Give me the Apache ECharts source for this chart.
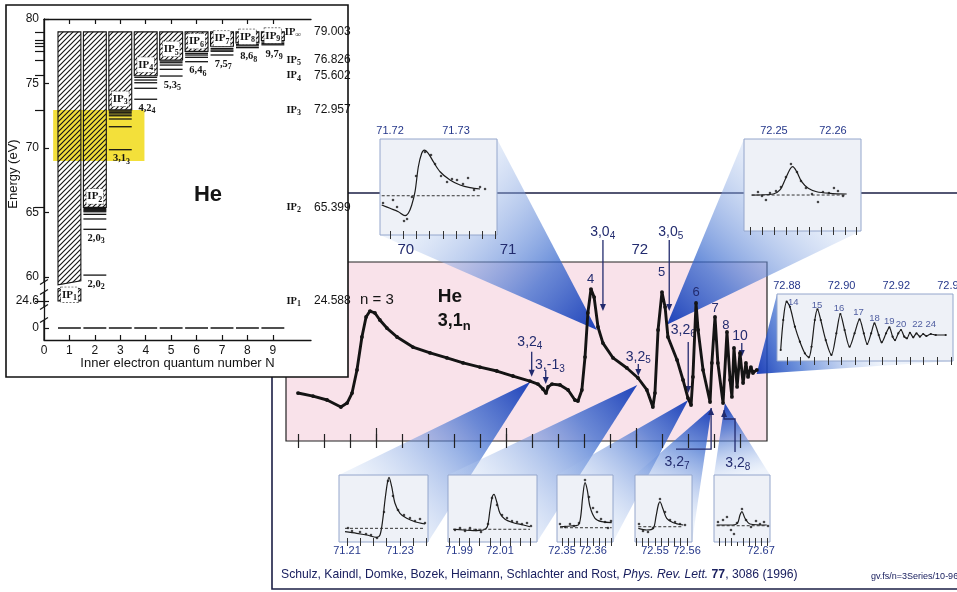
<!DOCTYPE html>
<html>
<head>
<meta charset="utf-8">
<title>He 3,1n resonances</title>
<script src="https://cdn.jsdelivr.net/npm/echarts@6.0.0/dist/echarts.min.js"></script>
<style>
  html, body { margin: 0; padding: 0; background: #ffffff; }
  #chart { width: 957px; height: 592px; }
</style>
</head>
<body>
<div id="chart"></div>
<script>
// ===================== He level diagram (left panel) =====================
const quantumN = [1, 2, 3, 4, 5, 6, 7, 8, 9];
const ionThresholds = [24.588, 65.399, 72.957, 75.602, 76.826, 77.49, 77.89, 78.15, 78.33];
const doubleIonLimit = 79.003;
const levelsN2 = [65.3, 65.22, 65.14, 65.06, 64.86, 64.5, 63.7, 60.15];
const levelsN3 = [72.87, 72.77, 72.64, 72.5, 72.25, 71.65, 69.87];
const levelsN4 = [75.48, 75.27, 75.06, 74.63, 73.78];
const levelsN5 = [76.74, 76.61, 76.43, 76.1, 75.58];
const levelsN6 = [77.34, 77.21, 77.03, 76.69];
const levelsN7 = [77.72, 77.6, 77.5, 77.21];
const levelsN8 = [78.02, 77.92, 77.78];
const levelsN9 = [78.22, 78.1, 78.0];
// state label: column, level it sits under, label, subscript
const stateNames = [
  [2, 60.15, '2,0', '2'], [2, 63.7, '2,0', '3'], [3, 69.87, '3,1', '3'], [4, 73.78, '4,2', '4'],
  [5, 75.58, '5,3', '5'], [6, 76.69, '6,4', '6'], [7, 77.21, '7,5', '7'], [8, 77.78, '8,6', '8'], [9, 78.0, '9,7', '9']
];
const energyTickValues = [0, 24.6, 60, 65, 70, 75, 80];
const energyTickLabels = ['0', '24.6', '60', '65', '70', '75', '80'];
const nTickValues = [0, 1, 2, 3, 4, 5, 6, 7, 8, 9];
const ipAxisValues = [79.003, 76.826, 75.602, 72.957, 65.399, 24.588];
const ipAxisNames = ['\u221e', '5', '4', '3', '2', '1'];
const ipExtraLevels = [78.33, 78.15, 77.89, 77.49];
const highlightBand = [0.36, 69.0, 3.95, 72.95];   // N from, E from, N to, E to

// ===================== photo-ion yield scan (right panel) =====================
const scanStep = [-0.02, 0.56, 1.10, 1.63, 1.87, 2.06, 2.25, 2.44, 2.60, 2.75, 2.94, 3.13, 3.40, 3.79, 4.40, 5.06, 5.71, 6.33, 6.98, 7.63,
  8.25, 8.90, 9.21, 9.40, 9.52, 9.60, 9.75, 10.06, 10.37, 10.63, 10.75, 10.90, 11.02, 11.13, 11.25, 11.37, 11.52, 11.71, 12.10, 12.63,
  13.06, 13.40, 13.63, 13.71, 13.83, 13.98, 14.10, 14.21, 14.56, 14.79, 14.98, 15.10, 15.17, 15.29, 15.37, 15.56, 15.83, 15.90, 16.02, 16.13,
  16.33, 16.48, 16.60, 16.67, 16.75, 16.87, 16.98, 17.10, 17.21, 17.29, 17.40, 17.48, 17.63];
const ionYield = [26.8, 25.1, 22.9, 19.0, 21.2, 26.8, 39.7, 58.1, 69.3, 72.6, 71.5, 67.6, 63.1, 58.1, 52.5, 49.2, 46.4, 43.6, 41.3, 39.1,
  36.3, 33.5, 31.8, 29.1, 26.8, 30.2, 31.8, 31.3, 28.5, 22.9, 22.3, 28.5, 46.9, 71.5, 84.9, 80.4, 63.7, 54.7, 46.4, 40.8,
  35.2, 28.5, 19.0, 26.8, 62.0, 83.2, 74.9, 58.1, 45.3, 34.1, 24.0, 20.1, 35.8, 77.1, 62.0, 39.7, 21.8, 43.6, 69.3, 43.6,
  21.2, 60.9, 34.1, 24.6, 52.0, 30.2, 49.2, 32.4, 43.6, 35.8, 41.3, 38.0, 39.7];
const scanTicks = [0, 1, 2, 3, 4, 5, 6, 7, 8, 9, 10, 11, 12, 13, 14, 15, 16, 17];
const scanMajorTicks = [3, 8, 13];
const energyLabelSteps = [4.13, 8.06, 13.13];
const energyLabels = ['70', '71', '72'];
const peakNumbers = ['4', '5', '6', '7', '8'];
const peakNumberAt = [[11.24, 90.3], [13.97, 93.9], [15.29, 83.2], [16.02, 74.3], [16.44, 64.8]];
// arrow notes: label, subscript, label x, label y, arrow x, arrow from, arrow to
const arrowNotes = [
  ['3,0', '4', 11.70, 116.8, 11.71, 112.3, 72.6],
  ['3,0', '5', 14.32, 116.8, 14.26, 112.3, 72.6],
  ['3,2', '4', 8.90, 55.3, 8.97, 49.9, 35.9],
  ['3,-1', '3', 9.67, 42.5, 9.51, 39.7, 31.8],
  ['3,2', '5', 13.07, 47.1, 13.07, 43.0, 36.3],
  ['3,2', '6', 14.80, 62.0, 14.99, 55.3, 26.8],
  ['10', '', 16.98, 58.7, 17.05, 54.7, 46.9]
];
const bracketNotes = [
  { path: [[15.87, 18.4], [15.87, -4.5], [14.52, -4.5]], text: ['3,2', '7'], at: [14.56, -11.7] },
  { path: [[16.37, 17.3], [16.37, 12.3], [16.79, 12.3], [16.79, -6.1]], text: ['3,2', '8'], at: [16.90, -12.3] }
];

// ----- zoomed resonances -----
const insetA_fitE = [71.71874, 71.72, 71.72126, 71.72227, 71.72277, 71.72329, 71.72379, 71.72429, 71.7248, 71.7252, 71.7258, 71.72656, 71.72758, 71.72909, 71.73061, 71.73212, 71.73364];
const insetA_fitY = [31.3, 27.8, 24.3, 20.1, 22.6, 31.3, 45.1, 71.1, 85.1, 88.5, 85.1, 76.4, 65.9, 57.3, 52.1, 49.3, 47.9];
const insetA_dotE = [71.71894, 71.72045, 71.72106, 71.72212, 71.72258, 71.72333, 71.72394, 71.7253, 71.72621, 71.72682, 71.72773, 71.72864, 71.72939, 71.73015, 71.73106, 71.73182, 71.73273, 71.73364, 71.7344];
const insetA_dotY = [33.3, 36.5, 29.2, 14.6, 16.7, 39.6, 61.5, 86.5, 83.3, 74.0, 61.5, 55.2, 58.3, 57.3, 53.1, 59.4, 46.9, 50.0, 47.9];
const insetA_base = 40.9;
const insetA_labels = [71.72, 71.73];

const insetB_fitE = [72.24622, 72.24988, 72.25102, 72.25186, 72.25271, 72.25317, 72.25385, 72.25469, 72.25581, 72.25724, 72.25949, 72.26232];
const insetB_fitY = [39.1, 40.2, 44.6, 55.4, 67.1, 69.9, 64.5, 53.6, 46.4, 42.7, 41.0, 40.2];
const insetB_dotE = [72.24729, 72.24797, 72.24864, 72.24932, 72.25034, 72.25119, 72.25203, 72.25288, 72.2539, 72.25458, 72.25542, 72.25644, 72.25746, 72.2583, 72.25932, 72.26017, 72.26085, 72.2617];
const insetB_dotY = [42.4, 38.0, 33.7, 41.3, 43.5, 47.8, 58.7, 72.8, 64.1, 54.3, 46.7, 40.2, 31.5, 42.4, 41.3, 46.7, 43.5, 38.0];
const insetB_base = 39.1;
const insetB_labels = [72.25, 72.26];

const insetC_fitE = [72.87771, 72.87865, 72.87989, 72.88109, 72.88291, 72.88473, 72.88655, 72.888, 72.88898, 72.89018, 72.89116, 72.89236, 72.89418, 72.89625, 72.89807,
  72.89953, 72.90109, 72.90291, 72.90473, 72.90655, 72.90811, 72.90935, 72.9108, 72.912, 72.91356, 72.91465, 72.91625, 72.91745, 72.91865, 72.91953,
  72.92073, 72.92171, 72.92291, 72.92389, 72.92498, 72.92618, 72.92738, 72.92862, 72.92982, 72.93102, 72.93262, 72.93444, 72.93807];
const insetC_fitY = [16.4, 61.2, 88.5, 81.0, 51.2, 28.8, 11.5, 5.5, 21.3, 61.2, 77.2, 61.2, 31.3, 9.0, 41.3,
  70.1, 46.3, 21.3, 41.3, 62.2, 41.3, 25.4, 41.3, 56.3, 38.8, 27.9, 41.3, 50.3, 36.3, 31.3,
  41.3, 46.3, 36.3, 33.9, 42.2, 35.4, 41.3, 36.3, 40.3, 37.3, 40.3, 38.8, 38.8];
const insetC_peakNames = ['14', '15', '16', '17', '18', '19', '20', '22', '24'];
const insetC_peakE = [72.88229, 72.89102, 72.89902, 72.90618, 72.912, 72.91745, 72.92171, 72.92775, 72.93262];
const insetC_peakY = [86.9, 83.6, 78.6, 72.1, 63.7, 58.7, 55.2, 55.2, 55.2];
const insetC_labels = [72.88, 72.90, 72.92, 72.94];

const insetD1_fitE = [71.20925, 71.21366, 71.21743, 71.22121, 71.22245, 71.22347, 71.22434, 71.22521, 71.22585, 71.22687, 71.22811, 71.23, 71.23253, 71.23566, 71.23943];
const insetD1_fitY = [15.4, 13.0, 10.4, 7.0, 10.4, 32.8, 62.7, 87.6, 96.6, 82.5, 57.8, 42.8, 35.4, 30.3, 26.9];
const insetD1_dotE = [71.21038, 71.21189, 71.21491, 71.21717, 71.21906, 71.22132, 71.22396, 71.22547, 71.22736, 71.22925, 71.23151, 71.23377, 71.23566, 71.23755, 71.23943];
const insetD1_dotY = [20.9, 16.4, 14.9, 11.9, 10.4, 6.0, 44.8, 91.0, 68.7, 47.8, 40.3, 35.8, 31.3, 34.3, 28.4];
const insetD1_base = 20.4;
const insetD1_labels = [71.21, 71.23];

const insetD2_fitE = [71.98722, 71.9921, 71.99698, 72.00185, 72.0038, 72.00512, 72.00624, 72.00707, 72.00839, 72.01, 72.01244, 72.01649, 72.02137, 72.02463];
const insetD2_fitY = [19.0, 17.9, 16.9, 17.9, 22.8, 47.8, 67.6, 71.2, 60.1, 42.8, 33.9, 28.8, 25.4, 22.8];
const insetD2_dotE = [71.98805, 71.99049, 71.99293, 71.99537, 71.99829, 72.00073, 72.00415, 72.0061, 72.00854, 72.01098, 72.01341, 72.01585, 72.01829, 72.02073, 72.02317, 72.02512];
const insetD2_dotY = [17.9, 20.9, 16.4, 20.9, 17.9, 14.9, 26.9, 65.7, 55.2, 40.3, 35.8, 31.3, 29.9, 26.9, 28.4, 23.9];
const insetD2_base = 19.0;
const insetD2_labels = [71.99, 72.01];

const insetD3_fitE = [72.34935, 72.35258, 72.35526, 72.35603, 72.35668, 72.35742, 72.35816, 72.35903, 72.36065, 72.36281, 72.36603];
const insetD3_fitY = [22.8, 23.9, 25.4, 37.8, 67.6, 88.5, 77.6, 52.7, 35.4, 30.3, 28.8];
const insetD3_dotE = [72.34935, 72.35097, 72.35258, 72.35387, 72.35548, 72.35742, 72.35871, 72.36, 72.36129, 72.36258, 72.36387, 72.36484, 72.36581];
const insetD3_dotY = [26.9, 22.4, 26.9, 23.9, 28.4, 92.5, 67.2, 50.7, 44.8, 34.3, 29.9, 20.9, 31.3];
const insetD3_base = 21.3;
const insetD3_labels = [72.35, 72.36];

const insetD4_fitE = [72.54478, 72.54741, 72.54947, 72.55031, 72.55103, 72.55156, 72.55241, 72.55366, 72.55572, 72.55884];
const insetD4_fitY = [20.4, 17.9, 20.4, 37.8, 55.2, 60.1, 50.3, 35.4, 28.8, 25.4];
const insetD4_dotE = [72.545, 72.54625, 72.54781, 72.54938, 72.55156, 72.55313, 72.55469, 72.55625, 72.55781, 72.55938];
const insetD4_dotY = [26.9, 16.4, 14.9, 20.9, 64.2, 44.8, 32.8, 29.9, 26.9, 25.4];
const insetD4_base = 22.8;
const insetD4_labels = [72.55, 72.56];

const insetD5_fitE = [72.65154, 72.65708, 72.66013, 72.66125, 72.66208, 72.66333, 72.66542, 72.67238];
const insetD5_fitY = [25.4, 25.4, 27.9, 40.3, 45.2, 35.4, 26.9, 25.4];
const insetD5_dotE = [72.65208, 72.65417, 72.65583, 72.6575, 72.65875, 72.66, 72.66208, 72.66375, 72.66583, 72.66792, 72.66958, 72.67125, 72.67292];
const insetD5_dotY = [29.9, 32.8, 37.3, 17.9, 11.9, 28.4, 49.3, 32.8, 22.4, 31.3, 26.9, 29.9, 23.9];
const insetD5_base = 24.3;
const insetD5_labels = [72.66, 72.67];

// ===================== styling helpers =====================
const SANS = '"Liberation Sans", Arial, Helvetica, sans-serif';
const SERIF = '"Liberation Serif", "DejaVu Serif", serif';
const NAVY = '#222b6e';
const INSET_NAVY = '#25378a';
const INK = '#141414';

function richPair(size, color, family, weight) {
  return {
    m: { fontSize: size, fontFamily: family, fontWeight: weight, fill: color, color: color },
    s: { fontSize: Math.round(size * 0.72), fontFamily: family, fontWeight: weight, fill: color, color: color,
         padding: [Math.round(size * 0.6), 0, 0, 0] }
  };
}
const subText = (main, sub) => sub ? '{m|' + main + '}{s|' + sub + '}' : '{m|' + main + '}';

// energy axis with two breaks: 0 and 24.6 eV sit in compressed segments below 60 eV
function dispE(e) {
  if (e >= 59) return e;
  if (e >= 20) return 58.14 + (e - 24.588) * 0.2;
  return 56.05 + e * 0.2;
}
const energyAxisMin = 55.12;
const column1Cut = 59.55;      // hatched N=1 continuum is cut at the axis break
const ip1BoxTop = 29.4;        // top of the N=1 continuum piece shown below the break
const leftAxisPieces = [[80, 59.61], [58.84, 57.67], [56.67, 55.12]];

const hatchTile = (function () {
  const s = 5, c = document.createElement('canvas');
  c.width = s; c.height = s;
  const g = c.getContext('2d');
  g.strokeStyle = '#151515'; g.lineWidth = 1.15;
  g.beginPath();
  g.moveTo(0, s); g.lineTo(s, 0);
  g.moveTo(-1, 1); g.lineTo(1, -1);
  g.moveTo(s - 1, s + 1); g.lineTo(s + 1, s - 1);
  g.stroke();
  return c;
})();
const hatchFill = { image: hatchTile, repeat: 'repeat' };

const levelList = [];
[[2, levelsN2], [3, levelsN3], [4, levelsN4], [5, levelsN5], [6, levelsN6], [7, levelsN7], [8, levelsN8], [9, levelsN9]]
  .forEach(([n, arr]) => arr.forEach(e => levelList.push([n, e])));

// ===================== left panel renderers =====================
function renderColumn(params, api) {
  const n = api.value(0), ip = api.value(1);
  const xl = api.coord([n - 0.45, 60])[0], xr = api.coord([n + 0.45, 60])[0];
  const yTop = api.coord([0, doubleIonLimit])[1];
  const kids = [];
  let labelY;
  if (n === 1) {
    const yCut = api.coord([0, column1Cut])[1];
    kids.push({ type: 'polygon', shape: { points: [[xl, yTop], [xr, yTop], [xr, yCut - 2], [xl, yCut + 2]] },
      style: { fill: hatchFill, stroke: INK, lineWidth: 1.1 } });
    const yb = api.coord([0, dispE(ip)])[1], yt = api.coord([0, dispE(ip1BoxTop)])[1];
    kids.push({ type: 'rect', shape: { x: xl, y: yt, width: xr - xl, height: yb - yt }, style: { fill: hatchFill } });
    kids.push({ type: 'polyline', shape: { points: [[xl, yt], [xl, yb], [xr, yb], [xr, yt]] }, style: { stroke: INK, lineWidth: 1.1, fill: null } });
    kids.push({ type: 'line', shape: { x1: xl, y1: yt, x2: xr, y2: yt }, style: { stroke: INK, lineWidth: 1, lineDash: [2, 2] } });
    labelY = (yt + yb) / 2;
  } else {
    const yb = api.coord([0, ip])[1];
    kids.push({ type: 'rect', shape: { x: xl, y: yTop, width: xr - xl, height: yb - yTop },
      style: { fill: hatchFill, stroke: INK, lineWidth: 1.1 } });
    labelY = yb - Math.min(11, (yb - yTop) / 2 + 0.5);
  }
  kids.push({ type: 'text', x: (xl + xr) / 2, y: labelY, z2: 5,
    style: { text: subText('IP', String(n)), rich: richPair(11, INK, SERIF, 'bold'), align: 'center', verticalAlign: 'middle',
      backgroundColor: '#ffffff', padding: [0, 1, 0, 1], borderColor: '#333', borderWidth: 0.6, borderDash: [2, 1.5] } });
  return { type: 'group', children: kids };
}
function renderLevel(params, api) {
  const n = api.value(0), e = api.value(1);
  const a = api.coord([n - 0.45, e]), b = api.coord([n + 0.45, e]);
  return { type: 'line', shape: { x1: a[0], y1: a[1], x2: b[0], y2: b[1] }, style: { stroke: INK, lineWidth: 1.3 } };
}
function renderGround(params, api) {
  const n = api.value(0);
  const a = api.coord([n - 0.45, dispE(0)]), b = api.coord([n + 0.45, dispE(0)]);
  return { type: 'line', shape: { x1: a[0], y1: a[1], x2: b[0], y2: b[1] }, style: { stroke: INK, lineWidth: 1.5 } };
}
function renderStateName(params, api) {
  const s = stateNames[api.value(0)];
  const p = api.coord([s[0] + 0.05, s[1]]);
  return { type: 'text', x: p[0], y: p[1] + 9,
    style: { text: subText(s[2], s[3]), rich: richPair(10.5, INK, SERIF, 'bold'), align: 'center', verticalAlign: 'middle' } };
}
function renderIpName(params, api) {
  const i = api.value(0);
  const p = api.coord([10.5, dispE(ipAxisValues[i])]);
  return { type: 'text', x: p[0] - 10, y: p[1],
    style: { text: subText('IP', ipAxisNames[i]), rich: richPair(10.5, INK, SERIF, 'bold'), align: 'right', verticalAlign: 'middle' } };
}
function renderHighlight(params, api) {
  const a = api.coord([highlightBand[0], highlightBand[3]]), b = api.coord([highlightBand[2], highlightBand[1]]);
  return { type: 'rect', shape: { x: a[0], y: a[1], width: b[0] - a[0], height: b[1] - a[1] },
    style: { fill: '#f3e03a' } };
}
function renderLeftAxis(params, api) {
  const kids = [];
  leftAxisPieces.forEach(([hi, lo], k) => {
    const a = api.coord([0, hi]), b = api.coord([0, lo]);
    kids.push({ type: 'line', shape: { x1: a[0], y1: a[1], x2: b[0], y2: b[1] }, style: { stroke: INK, lineWidth: 1.3 } });
    if (k > 0) kids.push({ type: 'line', shape: { x1: a[0] - 4, y1: a[1] + 2.5, x2: a[0] + 4, y2: a[1] - 2.5 }, style: { stroke: INK, lineWidth: 1.2 } });
    if (k < leftAxisPieces.length - 1) kids.push({ type: 'line', shape: { x1: b[0] - 4, y1: b[1] + 2.5, x2: b[0] + 4, y2: b[1] - 2.5 }, style: { stroke: INK, lineWidth: 1.2 } });
  });
  return { type: 'group', children: kids };
}

// ===================== right panel renderers =====================
function renderArrowNote(params, api) {
  const a = arrowNotes[api.value(0)];
  const p0 = api.coord([a[4], a[5]]), p1 = api.coord([a[4], a[6]]), lp = api.coord([a[2], a[3]]);
  return { type: 'group', children: [
    { type: 'line', shape: { x1: p0[0], y1: p0[1], x2: p1[0], y2: p1[1] - 5 }, style: { stroke: NAVY, lineWidth: 1.3 } },
    { type: 'polygon', shape: { points: [[p1[0] - 3, p1[1] - 7], [p1[0] + 3, p1[1] - 7], [p1[0], p1[1]]] }, style: { fill: NAVY } },
    { type: 'text', x: lp[0], y: lp[1], style: { text: subText(a[0], a[1]), rich: richPair(14, NAVY, SANS, 'normal'), align: 'center', verticalAlign: 'middle' } }
  ] };
}
function renderBracket(params, api) {
  const b = bracketNotes[api.value(0)];
  const pts = b.path.map(p => api.coord(p));
  const tip = pts[0];
  const lp = api.coord(b.at);
  return { type: 'group', children: [
    { type: 'polyline', shape: { points: pts }, style: { stroke: NAVY, lineWidth: 1.3, fill: null } },
    { type: 'polygon', shape: { points: [[tip[0] - 3, tip[1] + 7], [tip[0] + 3, tip[1] + 7], [tip[0], tip[1]]] }, style: { fill: NAVY } },
    { type: 'text', x: lp[0], y: lp[1], style: { text: subText(b.text[0], b.text[1]), rich: richPair(14, NAVY, SANS, 'normal'), align: 'center', verticalAlign: 'middle' } }
  ] };
}
function renderPeakNumber(params, api) {
  const i = api.value(0);
  const p = api.coord(peakNumberAt[i]);
  return { type: 'text', x: p[0], y: p[1], style: { text: peakNumbers[i], fill: NAVY, fontSize: 13, fontFamily: SANS, align: 'center', verticalAlign: 'middle' } };
}
function renderScanTitle(params, api) {
  const p1 = api.coord([3.02, 78.8]), p2 = api.coord([5.36, 80.6]), p3 = api.coord([5.36, 67.0]);
  return { type: 'group', children: [
    { type: 'text', x: p1[0], y: p1[1], style: { text: 'n = 3', fill: INK, fontSize: 15, fontFamily: SANS, align: 'center', verticalAlign: 'middle' } },
    { type: 'text', x: p2[0], y: p2[1], style: { text: 'He', fill: INK, fontSize: 19, fontWeight: 'bold', fontFamily: SANS, align: 'left', verticalAlign: 'middle' } },
    { type: 'text', x: p3[0], y: p3[1], style: { text: subText('3,1', 'n'), rich: richPair(18, INK, SANS, 'bold'), align: 'left', verticalAlign: 'middle' } }
  ] };
}

// ===================== insets =====================
function ticksBetween(lo, hi, step) {
  const out = [];
  for (let k = Math.ceil(lo / step - 1e-9); k * step <= hi + 1e-9; k++) out.push(+(k * step).toFixed(6));
  return out;
}
const zip = (xs, ys) => xs.map((x, i) => [x, ys[i]]);

const insetDefs = [
  { box: [380, 139, 117, 96], range: [71.71848, 71.73621], step: 0.002, labels: insetA_labels, labelSide: 'top',
    fit: zip(insetA_fitE, insetA_fitY), dots: zip(insetA_dotE, insetA_dotY), base: insetA_base, apex: [11.48, 62.0], rays: ['bl', 'tr'] },
  { box: [744, 139, 117, 92], range: [72.24492, 72.26475], step: 0.002, labels: insetB_labels, labelSide: 'top',
    fit: zip(insetB_fitE, insetB_fitY), dots: zip(insetB_dotE, insetB_dotY), base: insetB_base, apex: [14.17, 65.0], rays: ['tl', 'br'] },
  { box: [777, 294, 176, 67], range: [72.87636, 72.94073], step: 0.005, labels: insetC_labels, labelSide: 'top',
    fit: zip(insetC_fitE, insetC_fitY), dots: null, base: null, apex: [17.62, 37.4], rays: ['tl', 'br'] },
  { box: [339, 475, 89, 67], range: [71.20698, 71.24057], step: 0.005, labels: insetD1_labels, labelSide: 'bottom',
    fit: zip(insetD1_fitE, insetD1_fitY), dots: zip(insetD1_dotE, insetD1_dotY), base: insetD1_base, apex: [8.92, 33.1], rays: ['tl', 'br'] },
  { box: [448, 475, 89, 67], range: [71.98463, 72.02805], step: 0.005, labels: insetD2_labels, labelSide: 'bottom',
    fit: zip(insetD2_fitE, insetD2_fitY), dots: zip(insetD2_dotE, insetD2_dotY), base: insetD2_base, apex: [13.03, 31.3], rays: ['tl', 'br'] },
  { box: [557, 475, 56, 67], range: [72.34839, 72.36645], step: 0.002, labels: insetD3_labels, labelSide: 'bottom',
    fit: zip(insetD3_fitE, insetD3_fitY), dots: zip(insetD3_dotE, insetD3_dotY), base: insetD3_base, apex: [14.99, 22.9], rays: ['tl', 'br'] },
  { box: [635, 475, 57, 67], range: [72.54375, 72.56156], step: 0.002, labels: insetD4_labels, labelSide: 'bottom',
    fit: zip(insetD4_fitE, insetD4_fitY), dots: zip(insetD4_dotE, insetD4_dotY), base: insetD4_base, apex: [15.89, 18.3], rays: ['tl', 'br'] },
  { box: [714, 475, 56, 67], range: [72.65042, 72.67375], step: 0.0025, labels: insetD5_labels, labelSide: 'bottom',
    fit: zip(insetD5_fitE, insetD5_fitY), dots: zip(insetD5_dotE, insetD5_dotY), base: insetD5_base, apex: [16.40, 21.1], rays: ['tl', 'tr'] }
];

// ===================== option =====================
const grids = [
  { left: 44, top: 19, width: 267, height: 321, show: false, z: 21, outerBoundsMode: 'none', containLabel: false },
  { left: 286, top: 262, width: 481, height: 179, show: true, backgroundColor: '#f9e2ea', borderColor: '#222', borderWidth: 1.2, z: 0,
    outerBoundsMode: 'none', containLabel: false }
];
const xAxes = [
  { gridIndex: 0, type: 'value', min: 0, max: 10.5, position: 'bottom', z: 24,
    axisLine: { show: true, lineStyle: { color: INK, width: 1.3 } },
    axisTick: { show: true, inside: true, length: 5, customValues: quantumN, lineStyle: { color: INK, width: 1.2 } },
    axisLabel: { show: true, customValues: nTickValues, formatter: v => String(Math.round(v)), color: INK, fontSize: 12, margin: 5, fontFamily: SANS },
    splitLine: { show: false },
    name: 'Inner electron quantum number N', nameLocation: 'middle', nameGap: 17, nameMoveOverlap: false,
    nameTextStyle: { fontSize: 13, color: INK, fontFamily: SANS } },
  { gridIndex: 0, type: 'value', min: 0, max: 10.5, position: 'top', z: 24,
    axisLine: { show: true, lineStyle: { color: INK, width: 1.3 } },
    axisTick: { show: true, inside: true, length: 5, customValues: quantumN, lineStyle: { color: INK, width: 1.2 } },
    axisLabel: { show: false }, splitLine: { show: false } },
  { gridIndex: 1, type: 'value', min: -0.48, max: 18.02, position: 'top', z: 2,
    axisLine: { show: false },
    axisTick: { show: true, inside: true, length: 7, customValues: scanTicks, lineStyle: { color: '#222', width: 1.2 } },
    axisLabel: { show: true, customValues: energyLabelSteps,
      formatter: v => energyLabels[energyLabelSteps.findIndex(s => Math.abs(s - v) < 1e-6)] || '',
      color: NAVY, fontSize: 15, margin: 5, fontFamily: SANS },
    splitLine: { show: false } },
  { gridIndex: 1, type: 'value', min: -0.48, max: 18.02, position: 'bottom', z: 2,
    axisLine: { show: false },
    axisTick: { show: true, inside: true, length: 7, customValues: scanTicks, lineStyle: { color: '#222', width: 1.2 } },
    axisLabel: { show: false }, splitLine: { show: false } },
  { gridIndex: 1, type: 'value', min: -0.48, max: 18.02, position: 'bottom', z: 2,
    axisLine: { show: false },
    axisTick: { show: true, inside: true, length: 13, customValues: scanMajorTicks, lineStyle: { color: '#222', width: 1.2 } },
    axisLabel: { show: false }, splitLine: { show: false } }
];
const yAxes = [
  { gridIndex: 0, type: 'value', min: energyAxisMin, max: 80, position: 'left', z: 24,
    axisLine: { show: false },
    axisTick: { show: true, inside: true, length: 5, customValues: energyTickValues.map(dispE), lineStyle: { color: INK, width: 1.2 } },
    axisLabel: { show: true, customValues: energyTickValues.map(dispE),
      formatter: v => energyTickLabels[energyTickValues.findIndex(e => Math.abs(dispE(e) - v) < 1e-6)] || '',
      color: INK, fontSize: 12, margin: 5, fontFamily: SANS },
    splitLine: { show: false } },
  { gridIndex: 0, type: 'value', min: energyAxisMin, max: 80, position: 'right', z: 24,
    axisLine: { show: true, lineStyle: { color: INK, width: 1.3 } },
    axisTick: { show: true, inside: true, length: 9, customValues: ipAxisValues.concat(ipExtraLevels).map(dispE), lineStyle: { color: INK, width: 1.2 } },
    axisLabel: { show: true, customValues: ipAxisValues.map(dispE),
      formatter: v => { const i = ipAxisValues.findIndex(e => Math.abs(dispE(e) - v) < 1e-6); return i >= 0 ? ipAxisValues[i].toFixed(3) : ''; },
      color: INK, fontSize: 12, margin: 3, fontFamily: SANS },
    splitLine: { show: false } },
  { gridIndex: 1, type: 'value', min: 0, max: 100, show: false }
];

const series = [
  { type: 'custom', name: 'band', xAxisIndex: 0, yAxisIndex: 0, z: 21.5, clip: false, silent: true,
    data: [[0, 70]], renderItem: renderHighlight },
  { type: 'custom', name: 'continua', xAxisIndex: 0, yAxisIndex: 0, z: 22, clip: false, silent: true,
    data: quantumN.map((n, i) => [n, ionThresholds[i]]), renderItem: renderColumn },
  { type: 'custom', name: 'levels', xAxisIndex: 0, yAxisIndex: 0, z: 22, clip: false, silent: true,
    data: levelList, renderItem: renderLevel },
  { type: 'custom', name: 'ground', xAxisIndex: 0, yAxisIndex: 0, z: 22, clip: false, silent: true,
    data: quantumN.map(n => [n, 0]), renderItem: renderGround },
  { type: 'custom', name: 'state names', xAxisIndex: 0, yAxisIndex: 0, z: 24, clip: false, silent: true,
    data: stateNames.map((s, i) => [i, 70]), renderItem: renderStateName },
  { type: 'custom', name: 'threshold names', xAxisIndex: 0, yAxisIndex: 0, z: 24, clip: false, silent: true,
    data: ipAxisValues.map((v, i) => [i, 70]), renderItem: renderIpName },
  { type: 'custom', name: 'energy axis', xAxisIndex: 0, yAxisIndex: 0, z: 24, clip: false, silent: true,
    data: [[0, 70]], renderItem: renderLeftAxis },

  { type: 'line', name: 'ion yield', xAxisIndex: 2, yAxisIndex: 2, z: 4, silent: true,
    data: zip(scanStep, ionYield), showSymbol: true, symbol: 'circle', symbolSize: 3.8,
    itemStyle: { color: INK }, lineStyle: { color: INK, width: 2.9 } },
  { type: 'custom', name: 'arrows', xAxisIndex: 2, yAxisIndex: 2, z: 4, clip: false, silent: true,
    data: arrowNotes.map((a, i) => [i, 50]), renderItem: renderArrowNote },
  { type: 'custom', name: 'brackets', xAxisIndex: 2, yAxisIndex: 2, z: 4, clip: false, silent: true,
    data: bracketNotes.map((b, i) => [i, 50]), renderItem: renderBracket },
  { type: 'custom', name: 'peak numbers', xAxisIndex: 2, yAxisIndex: 2, z: 4, clip: false, silent: true,
    data: peakNumbers.map((p, i) => [i, 50]), renderItem: renderPeakNumber },
  { type: 'custom', name: 'scan title', xAxisIndex: 2, yAxisIndex: 2, z: 4, clip: false, silent: true,
    data: [[0, 50]], renderItem: renderScanTitle }
];

insetDefs.forEach((d, i) => {
  const [l, t, w, h] = d.box;
  const gi = 2 + i, xTop = 5 + 2 * i, yi = 3 + i;
  const ticks = ticksBetween(d.range[0], d.range[1], d.step);
  grids.push({ left: l, top: t, width: w, height: h, show: true, backgroundColor: '#eef1f7', borderColor: '#94a6cc', borderWidth: 1, z: 6,
    outerBoundsMode: 'none', containLabel: false });
  ['top', 'bottom'].forEach(side => {
    xAxes.push({ gridIndex: gi, type: 'value', min: d.range[0], max: d.range[1], position: side, z: 7,
      axisLine: { show: false },
      axisTick: { show: true, inside: true, length: 4, customValues: ticks, lineStyle: { color: '#333', width: 1 } },
      axisLabel: { show: side === d.labelSide, customValues: d.labels, formatter: v => v.toFixed(2),
        color: INSET_NAVY, fontSize: 11, margin: 3, fontFamily: SANS },
      splitLine: { show: false } });
  });
  yAxes.push({ gridIndex: gi, type: 'value', min: 0, max: 100, show: false });
  series.push({ type: 'line', xAxisIndex: xTop, yAxisIndex: yi, z: 7, silent: true, data: d.fit, smooth: 0.3,
    showSymbol: d.dots === null, symbol: 'circle', symbolSize: 2.2, itemStyle: { color: '#1c1c1c' },
    lineStyle: { color: '#1c1c1c', width: 1.2 } });
  if (d.dots) {
    series.push({ type: 'scatter', xAxisIndex: xTop, yAxisIndex: yi, z: 7, silent: true, data: d.dots,
      symbolSize: 2.6, itemStyle: { color: '#1c1c1c' } });
  }
  if (d.base !== null) {
    series.push({ type: 'line', xAxisIndex: xTop, yAxisIndex: yi, z: 7, silent: true, showSymbol: false,
      data: [[d.fit[0][0], d.base], [d.fit[d.fit.length - 1][0], d.base]],
      lineStyle: { color: '#333', width: 1, type: [3, 2] } });
  }
  if (i === 2) {
    series.push({ type: 'scatter', xAxisIndex: xTop, yAxisIndex: yi, z: 8, silent: true, symbolSize: 0,
      data: insetC_peakNames.map((nm, k) => ({ name: nm, value: [insetC_peakE[k], insetC_peakY[k]] })),
      label: { show: true, position: 'inside', formatter: p => p.name, color: INSET_NAVY, fontSize: 9.5, fontFamily: SANS } });
  }
});

const chart = echarts.init(document.getElementById('chart'), null, { renderer: 'canvas', width: 957, height: 592 });
chart.setOption({
  animation: false,
  backgroundColor: '#ffffff',
  textStyle: { fontFamily: SANS },
  grid: grids, xAxis: xAxes, yAxis: yAxes, series: series
});

// spotlights from each marked resonance to its zoomed view
const yieldSeriesIndex = series.findIndex(s => s.name === 'ion yield');
const graphics = [
  { type: 'rect', z: 0, silent: true, shape: { x: 272, y: 193, width: 700, height: 396 },
    style: { fill: null, stroke: '#1b1f45', lineWidth: 1.6 } },
  { type: 'rect', z: 20, silent: true, shape: { x: 6, y: 5, width: 342, height: 372 },
    style: { fill: '#ffffff', stroke: '#111', lineWidth: 1.6 } },
  { type: 'text', z: 24, silent: true, x: 13, y: 174, rotation: Math.PI / 2,
    style: { text: 'Energy (eV)', fill: INK, font: '13px ' + SANS, align: 'center', verticalAlign: 'middle' } },
  { type: 'text', z: 24, silent: true, x: 208, y: 195,
    style: { text: 'He', fill: INK, font: 'bold 22px ' + SANS, align: 'center', verticalAlign: 'middle' } },
  { type: 'text', z: 5, silent: true, x: 281, y: 575,
    style: { text: '{n|Schulz, Kaindl, Domke, Bozek, Heimann, Schlachter and Rost, }{i|Phys. Rev. Lett.}{b| 77}{n|, 3086 (1996)}',
      verticalAlign: 'middle',
      rich: {
        n: { fontSize: 12.2, fontFamily: SANS, fill: '#1b2160', color: '#1b2160' },
        i: { fontSize: 12.2, fontFamily: SANS, fontStyle: 'italic', fill: '#1b2160', color: '#1b2160' },
        b: { fontSize: 12.2, fontFamily: SANS, fontWeight: 'bold', fill: '#1b2160', color: '#1b2160' }
      } } },
  { type: 'text', z: 5, silent: true, x: 871, y: 577,
    style: { text: 'gv.fs/n=3Series/10-96', fill: '#1b2160', font: '9px ' + SANS, verticalAlign: 'middle' } }
];
insetDefs.forEach(d => {
  const apex = chart.convertToPixel({ seriesIndex: yieldSeriesIndex }, d.apex);
  const [l, t, w, h] = d.box;
  const corner = { tl: [l, t], tr: [l + w, t], bl: [l, t + h], br: [l + w, t + h] };
  const c1 = corner[d.rays[0]], c2 = corner[d.rays[1]];
  const mid = [(c1[0] + c2[0]) / 2, (c1[1] + c2[1]) / 2];
  graphics.push({ type: 'polygon', z: 1, silent: true, shape: { points: [apex, c1, c2] },
    style: { fill: new echarts.graphic.LinearGradient(apex[0], apex[1], mid[0], mid[1], [
      { offset: 0, color: 'rgba(18, 56, 182, 0.95)' },
      { offset: 0.35, color: 'rgba(52, 102, 205, 0.72)' },
      { offset: 1, color: 'rgba(196, 214, 242, 0.3)' }
    ], true) } });
});
chart.setOption({ graphic: { elements: graphics } });
</script>
</body>
</html>
